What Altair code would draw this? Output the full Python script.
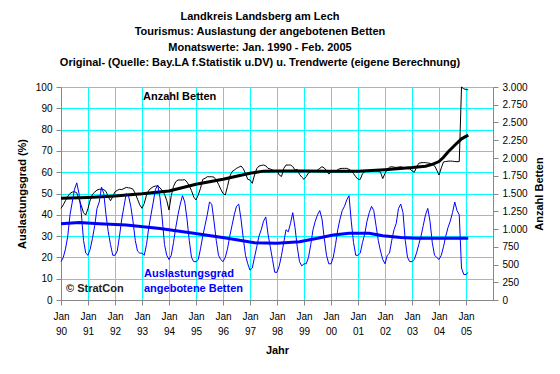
import altair as alt
import pandas as pd

# Monthly values Jan 1990 .. Feb 2005 (month index 0 = Jan 1990)
occupancy = [
    18, 20, 24, 30, 40, 46, 52, 55, 50, 41, 28, 22,   # 1990
    21, 24, 29, 35, 43, 46, 53, 50, 40, 32, 26, 21,   # 1991
    21, 23, 30, 38, 44, 50, 49, 44, 37, 28, 23, 22,   # 1992
    22, 21, 26, 34, 40, 46, 52, 54, 48, 38, 26, 21,   # 1993
    19, 21, 27, 34, 40, 45, 49, 46, 38, 28, 20, 18,   # 1994
    18, 19, 24, 30, 35, 40, 46, 45, 37, 28, 21, 19,   # 1995
    18, 20, 24, 30, 35, 40, 44, 45, 38, 29, 21, 17,   # 1996
    14, 15, 20, 25, 30, 33, 37, 39, 31, 25, 19, 13,   # 1997
    13, 16, 21, 27, 33, 32, 36, 41, 34, 25, 18, 16,   # 1998
    17, 17, 20, 26, 33, 37, 40, 42, 38, 29, 21, 17,   # 1999
    17, 20, 26, 33, 38, 42, 44, 47, 49, 37, 27, 21,   # 2000
    21, 22, 27, 31, 37, 41, 44, 42, 35, 28, 23, 19,   # 2001
    17, 21, 22, 28, 33, 36, 43, 45, 41, 28, 20, 18,   # 2002
    18, 19, 22, 26, 30, 35, 40, 43, 37, 27, 21, 20,   # 2003
    19, 21, 25, 30, 34, 37, 41, 46, 42, 40, 15, 12,   # 2004
    12, 13,                                           # 2005
]

beds = [
    1291, 1340, 1400, 1460, 1500, 1520, 1525, 1510, 1420, 1330, 1230, 1197,
    1290, 1410, 1490, 1520, 1549, 1559, 1560, 1555, 1530, 1455, 1398, 1455,
    1525, 1545, 1559, 1555, 1570, 1586, 1580, 1575, 1560, 1500, 1420, 1340,
    1291, 1361, 1478, 1545, 1573, 1596, 1605, 1605, 1580, 1540, 1490, 1400,
    1267, 1470, 1600, 1666, 1690, 1690, 1690, 1695, 1660, 1610, 1540, 1450,
    1408, 1480, 1573, 1700, 1713, 1736, 1736, 1736, 1730, 1690, 1630, 1560,
    1500, 1478, 1600, 1740, 1807, 1830, 1854, 1870, 1887, 1850, 1780, 1700,
    1690, 1643, 1760, 1850, 1887, 1895, 1901, 1890, 1854, 1845, 1830, 1821,
    1821, 1760, 1740, 1854, 1901, 1901, 1901, 1880, 1830, 1840, 1770, 1730,
    1699, 1740, 1790, 1807, 1815, 1815, 1830, 1854, 1877, 1860, 1820, 1774,
    1800, 1815, 1815, 1835, 1850, 1854, 1854, 1854, 1840, 1820, 1780, 1736,
    1700, 1699, 1780, 1807, 1815, 1815, 1820, 1820, 1821, 1815, 1800, 1710,
    1784, 1840, 1870, 1877, 1870, 1868, 1872, 1877, 1868, 1854, 1850, 1848,
    1820, 1798, 1870, 1925, 1933, 1935, 1935, 1930, 1925, 1910, 1891, 1830,
    1760, 1860, 1945, 1950, 1955, 1957, 1955, 1950, 1948, 1950, 3000, 2975,
    2965, 2960,
]

months = list(range(len(occupancy)))

beds_trend_month = [0, 12, 24, 36, 48, 60, 72, 84, 90, 96, 108, 120, 132, 144, 156, 162, 165, 168, 170, 172, 175, 178, 181]
beds_trend = [1432, 1445, 1465, 1495, 1535, 1630, 1700, 1785, 1815, 1818, 1818, 1815, 1812, 1835, 1865, 1885, 1910, 1950, 2010, 2085, 2180, 2270, 2323]

occ_trend_month = [0, 8, 17, 29, 44, 59, 74, 86, 96, 106, 114, 121, 128, 137, 143, 151, 158, 181]
occ_trend = [35.8, 36.4, 35.8, 35.2, 33.6, 31.3, 29.0, 26.9, 26.6, 27.4, 29.0, 30.5, 31.3, 31.3, 30.2, 29.3, 29.0, 29.0]

year_ticks = list(range(0, 181, 12))
pct_ticks = list(range(0, 101, 10))
bed_ticks = list(range(0, 3001, 250))

title_lines = [
    "Landkreis Landsberg am Lech",
    "Tourismus: Auslastung der angebotenen Betten",
    "Monatswerte: Jan. 1990 - Feb. 2005",
    "Original- (Quelle: Bay.LA f.Statistik u.DV) u. Trendwerte (eigene Berechnung)",
]

FONT = "Liberation Sans"
BLUE = "#0000FF"
CYAN = "#00FFFF"

df = pd.DataFrame({"m": months, "occ": occupancy, "beds": beds})
df_bt = pd.DataFrame({"m": beds_trend_month, "beds": beds_trend})
df_ot = pd.DataFrame({"m": occ_trend_month, "occ": occ_trend})
df_one = pd.DataFrame({"k": [0]})

x_enc = alt.X(
    "m:Q",
    scale=alt.Scale(domain=[0, 192], nice=False, zero=False),
    axis=alt.Axis(
        values=year_ticks,
        labelExpr="['Jan', format((90 + datum.value / 12) % 100, '02d')]",
        labelLineHeight=15,
        labelPadding=6,
        labelFlush=False,
        labelOverlap=False,
        title="Jahr",
        titlePadding=8,
        grid=True,
        gridColor=CYAN,
        gridWidth=1,
    ),
)

left_axis = alt.Axis(
    values=pct_ticks,
    orient="left",
    title="Auslastungsgrad (%)",
    titlePadding=8,
    grid=True,
    gridColor=CYAN,
    gridWidth=1,
    labelPadding=4,
)
right_axis = alt.Axis(
    values=bed_ticks,
    orient="right",
    title="Anzahl Betten",
    titleAngle=270,
    titlePadding=17,
    grid=False,
    labelPadding=4,
    labelExpr="replace(format(datum.value, ','), ',', '.')",
)

y_occ_scale = alt.Scale(domain=[0, 100], nice=False, zero=True)
y_beds_scale = alt.Scale(domain=[0, 3000], nice=False, zero=True)

occ_thin = alt.Chart(df).mark_line(color=BLUE, strokeWidth=1).encode(
    x=x_enc, y=alt.Y("occ:Q", scale=y_occ_scale, axis=left_axis)
)
occ_tr = alt.Chart(df_ot).mark_line(color=BLUE, strokeWidth=3).encode(
    x=x_enc, y=alt.Y("occ:Q", scale=y_occ_scale, axis=left_axis)
)
beds_thin = alt.Chart(df).mark_line(color="black", strokeWidth=1).encode(
    x=x_enc, y=alt.Y("beds:Q", scale=y_beds_scale, axis=right_axis)
)
beds_tr = alt.Chart(df_bt).mark_line(color="black", strokeWidth=3).encode(
    x=x_enc, y=alt.Y("beds:Q", scale=y_beds_scale, axis=right_axis)
)

occ_layer = alt.layer(occ_thin, occ_tr)
beds_layer = alt.layer(beds_thin, beds_tr)

txt_style = dict(font=FONT, fontSize=11, fontWeight="bold", align="left", baseline="middle")
t_beds = alt.Chart(df_one).mark_text(text="Anzahl Betten", color="black", **txt_style).encode(
    x=alt.value(82), y=alt.value(10)
)
t_copy = alt.Chart(df_one).mark_text(text="\u00a9 StratCon", color="#202020", **txt_style).encode(
    x=alt.value(5), y=alt.value(202)
)
t_occ1 = alt.Chart(df_one).mark_text(text="Auslastungsgrad", color=BLUE, **txt_style).encode(
    x=alt.value(83), y=alt.value(187)
)
t_occ2 = alt.Chart(df_one).mark_text(text="angebotene Betten", color=BLUE, **txt_style).encode(
    x=alt.value(83), y=alt.value(202)
)

chart = (
    alt.layer(beds_layer, occ_layer, t_beds, t_copy, t_occ1, t_occ2)
    .resolve_scale(y="independent")
    .properties(
        width=432,
        height=213,
        padding={"left": 53, "top": 79, "right": 59, "bottom": 66},
        autosize=alt.AutoSizeParams(type="none"),
        title=alt.Title(
            text=title_lines,
            font=FONT,
            fontSize=11,
            fontWeight="bold",
            lineHeight=15.5,
            anchor="middle",
            frame="group",
            dx=-17,
            offset=14,
            color="black",
        ),
    )
    .configure_view(fill="#C0C0C0", stroke="transparent")
    .configure_axis(
        labelFont=FONT,
        labelFontSize=11,
        labelColor="black",
        titleFont=FONT,
        titleFontSize=11,
        titleFontWeight="bold",
        titleColor="black",
        domainColor="black",
        tickColor="black",
        tickSize=4,
    )
    .configure(background="white")
)

chart.save("out.html", embed_options={"renderer": "svg", "actions": False})
